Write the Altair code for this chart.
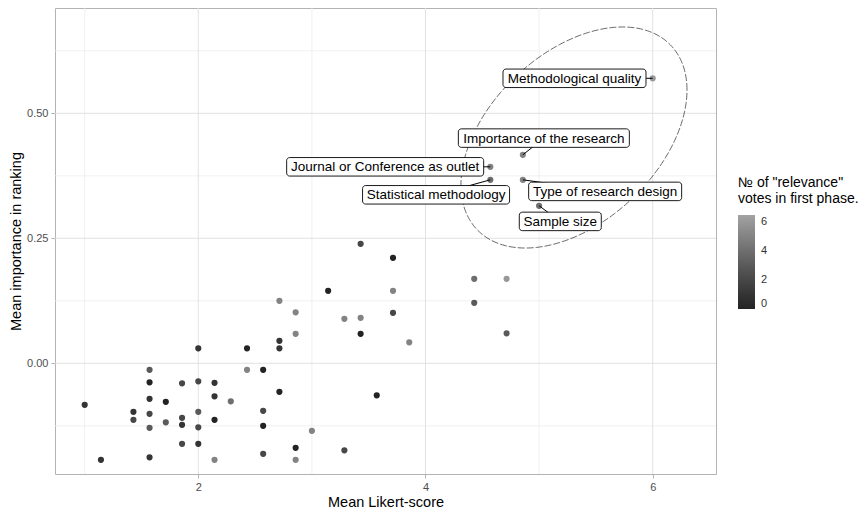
import altair as alt
import numpy as np
import pandas as pd

# ---------------- data ----------------
likert = [1.000, 1.143, 1.429, 1.429, 1.571, 1.571, 1.571, 1.571, 1.571, 1.571,
          1.714, 1.714, 1.857, 1.857, 1.857, 1.857, 2.000, 2.000, 2.000, 2.000,
          2.000, 2.143, 2.143, 2.143, 2.143, 2.286, 2.429, 2.429,
          2.571, 2.571, 2.571, 2.571, 2.714, 2.714, 2.714, 2.714, 2.857, 2.857,
          2.857, 2.857, 3.000, 3.143, 3.286, 3.286, 3.429, 3.429, 3.429, 3.571,
          3.714, 3.714, 3.714, 3.857, 4.429, 4.714, 4.429, 4.714,
          6.000, 4.857, 4.571, 4.571, 4.857, 5.000]
importance = [-0.083, -0.193, -0.097, -0.113, -0.013, -0.038, -0.071, -0.101, -0.129, -0.188,
              -0.077, -0.118, -0.040, -0.109, -0.123, -0.161, 0.030, -0.036, -0.097, -0.128,
              -0.161, -0.039, -0.066, -0.113, -0.193, -0.076, 0.030, -0.013,
              -0.013, -0.095, -0.125, -0.181, 0.125, 0.045, 0.030, -0.057, 0.102, 0.059,
              -0.169, -0.193, -0.135, 0.145, 0.089, -0.174, 0.239, 0.091, 0.059, -0.064,
              0.211, 0.145, 0.101, 0.042, 0.169, 0.169, 0.121, 0.060,
              0.570, 0.417, 0.393, 0.367, 0.367, 0.315]
votes = [1, 1, 1, 2, 3, 0, 1, 2, 3, 1,
         0, 3, 2, 2, 1, 2, 1, 2, 3, 2,
         1, 1, 1, 0, 5, 4, 0, 5,
         0, 2, 0, 2, 5, 1, 1, 0, 5, 5,
         0, 5, 5, 0, 5, 2, 2, 5, 0, 0,
         0, 5, 2, 5, 4, 6, 3, 3,
         6, 5, 5, 4, 5, 4]
labels = [""] * 56 + ["Methodological quality", "Importance of the research",
                      "Journal or Conference as outlet", "Statistical methodology",
                      "Type of research design", "Sample size"]

# label layout (pixel offsets of each label box centre from its point, box widths)
lab_dx = [-78.2, 21.0, -105.2, -54.3, 82.3, 21.2]
lab_dy = [0.0, -16.7, 0.0, 15.0, 11.6, 15.6]
lab_w = [143, 171, 197, 147, 153, 82]
lab_h = 18.5

# dashed ellipse annotation: centre, x radius, y components
ell_cx, ell_cy, ell_rx, ell_ycos, ell_ysin = 5.307, 0.4516, 0.995, 0.095, 0.1996

# ---------------- layout ----------------
W, H = 661, 466
PX_X = 113.6
PX_Y = 500.0
x_lo = 0.7386
x_hi = x_lo + W / PX_X
y_hi = 0.7106
y_lo = y_hi - H / PX_Y

FONT = "Liberation Sans"

df = pd.DataFrame({"x": likert, "y": importance, "v": votes, "name": labels})

lab = df[df["name"] != ""].reset_index(drop=True).copy()
lab["lx"] = lab["x"] + np.array(lab_dx) / PX_X
lab["ly"] = lab["y"] - np.array(lab_dy) / PX_Y
lab["x1"] = lab["lx"] - np.array(lab_w) / 2 / PX_X
lab["x2"] = lab["lx"] + np.array(lab_w) / 2 / PX_X
lab["y1"] = lab["ly"] - lab_h / 2 / PX_Y
lab["y2"] = lab["ly"] + lab_h / 2 / PX_Y

t = np.linspace(0, 2 * np.pi, 241)
ell = pd.DataFrame({
    "ex": ell_cx + ell_rx * np.cos(t),
    "ey": ell_cy + ell_ycos * np.cos(t) + ell_ysin * np.sin(t),
    "i": np.arange(len(t)),
})

xs = alt.Scale(domain=[x_lo, x_hi], nice=False, zero=False)
ys = alt.Scale(domain=[y_lo, y_hi], nice=False, zero=False)
xax = alt.Axis(values=[2, 4, 6], format="d", title="Mean Likert-score")
yax = alt.Axis(values=[0, 0.25, 0.5], format=".2f", title="Mean importance in ranking")


def X(field):
    return alt.X(field, scale=xs, axis=xax)


def Y(field):
    return alt.Y(field, scale=ys, axis=yax)


grid_major_x = alt.Chart(pd.DataFrame({"x": [2, 4, 6]})).mark_rule(
    color="#e2e2e2", strokeWidth=1).encode(x=X("x:Q"))
grid_minor_x = alt.Chart(pd.DataFrame({"x": [1, 3, 5]})).mark_rule(
    color="#ececec", strokeWidth=0.8).encode(x=X("x:Q"))
grid_major_y = alt.Chart(pd.DataFrame({"y": [0, 0.25, 0.5]})).mark_rule(
    color="#e2e2e2", strokeWidth=1).encode(y=Y("y:Q"))
grid_minor_y = alt.Chart(pd.DataFrame({"y": [-0.125, 0.125, 0.375, 0.625]})).mark_rule(
    color="#ececec", strokeWidth=0.8).encode(y=Y("y:Q"))

points = alt.Chart(df).mark_circle(size=38, opacity=1).encode(
    x=X("x:Q"),
    y=Y("y:Q"),
    color=alt.Color("v:Q",
                    scale=alt.Scale(domain=[0, 6.5], range=["#232323", "#a3a3a3"],
                                    interpolate="lab"),
                    legend=alt.Legend(title=['№ of "relevance"', "votes in first phase."],
                                      values=[0, 2, 4, 6], orient="none",
                                      legendX=683, legendY=168,
                                      gradientLength=94, gradientThickness=17,
                                      gradientStrokeWidth=0,
                                      titleFontSize=14, titleFontWeight="normal",
                                      titleColor="#000000", titleFont=FONT,
                                      titlePadding=9, titleLimit=200,
                                      labelFontSize=11, labelColor="#333333",
                                      labelFont=FONT, labelOffset=6)),
)

ellipse = alt.Chart(ell).mark_line(color="#444444", strokeWidth=0.8,
                                   strokeDash=[7, 2]).encode(
    x=X("ex:Q"),
    y=Y("ey:Q"),
    order="i:Q",
)

segs = alt.Chart(lab).mark_rule(color="#000000", strokeWidth=1).encode(
    x=X("x:Q"), y=Y("y:Q"),
    x2="lx:Q", y2="ly:Q",
)

boxes = alt.Chart(lab).mark_rect(fill="white", stroke="#000000", strokeWidth=0.9,
                                 cornerRadius=3).encode(
    x=X("x1:Q"), x2="x2:Q",
    y=Y("y1:Q"), y2="y2:Q",
)

texts = alt.Chart(lab).mark_text(font=FONT, fontSize=13.5, color="#000000",
                                 align="center", baseline="middle", dy=0.5).encode(
    x=X("lx:Q"), y=Y("ly:Q"),
    text="name:N",
)

chart = alt.layer(
    grid_minor_x, grid_minor_y, grid_major_x, grid_major_y,
    points, ellipse, segs, boxes, texts,
).properties(
    width=W, height=H,
    autosize=alt.AutoSizeParams(type="none"),
    padding={"left": 47, "top": 0, "right": 144, "bottom": 38},
).configure_view(
    stroke="#b3b3b3", strokeWidth=1,
).configure_axis(
    grid=False, domain=False, tickColor="#b3b3b3", tickSize=4, tickWidth=1,
    labelFont=FONT, labelFontSize=11, labelColor="#4d4d4d", labelPadding=3,
    titleFont=FONT, titleFontSize=14.5, titleFontWeight="normal", titleColor="#000000",
    titlePadding=3,
)

chart.save("out.html", embed_options={"renderer": "svg", "actions": False})
